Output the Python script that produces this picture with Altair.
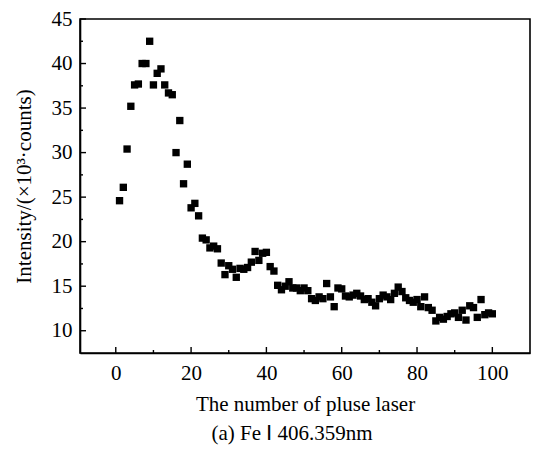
import altair as alt
import pandas as pd

pulse = list(range(1, 101))
intensity = [
    24.6, 26.1, 30.4, 35.2, 37.6, 37.7, 40.0, 40.0, 42.5, 37.6,
    38.9, 39.4, 37.6, 36.7, 36.5, 30.0, 33.6, 26.5, 28.7, 23.8,
    24.3, 22.9, 20.4, 20.2, 19.3, 19.5, 19.2, 17.6, 16.3, 17.3,
    16.9, 16.0, 17.0, 16.9, 17.1, 17.7, 18.9, 17.9, 18.7, 18.8,
    17.2, 16.7, 15.1, 14.6, 15.0, 15.5, 14.8, 14.8, 14.5, 14.8,
    14.5, 13.6, 13.4, 13.8, 13.6, 15.3, 13.8, 12.7, 14.8, 14.7,
    13.9, 13.8, 14.0, 14.2, 13.9, 13.5, 13.6, 13.2, 12.8, 13.6,
    14.0, 13.8, 13.5, 14.2, 14.9, 14.4, 13.7, 13.4, 13.2, 13.5,
    12.7, 13.8, 12.6, 12.3, 11.1, 11.5, 11.3, 11.6, 11.9, 12.0,
    11.5, 12.3, 11.2, 12.8, 12.6, 11.5, 13.5, 11.8, 12.0, 11.9,
]
x_major = [0, 20, 40, 60, 80, 100]
x_minor = [10, 30, 50, 70, 90]
y_major = [10, 15, 20, 25, 30, 35, 40, 45]
y_minor = [12.5, 17.5, 22.5, 27.5, 32.5, 37.5, 42.5]

W, H = 450, 334
FONT = "Liberation Serif"
FS = 21

xscale = alt.Scale(domain=[-9.5, 110], nice=False, zero=False)
yscale = alt.Scale(domain=[7.5, 45], nice=False, zero=False)

df = pd.DataFrame({"pulse": pulse, "intensity": intensity})

points = alt.Chart(df).mark_square(size=54, color="black", opacity=1, filled=True).encode(
    x=alt.X("pulse:Q", scale=xscale,
            axis=alt.Axis(values=x_major, title="The number of pluse laser", ticks=False,
                          grid=False, labelFont=FONT, labelFontSize=FS, labelColor="black",
                          titleFont=FONT, titleFontSize=FS, titleFontWeight="normal",
                          titleColor="black", labelPadding=9, titlePadding=10,
                          domainColor="black", domainWidth=1.6)),
    y=alt.Y("intensity:Q", scale=yscale,
            axis=alt.Axis(values=y_major, title="Intensity/(×10³·counts)", ticks=False,
                          grid=False, labelFont=FONT, labelFontSize=FS, labelColor="black",
                          titleFont=FONT, titleFontSize=FS, titleFontWeight="normal",
                          titleColor="black", labelPadding=8, titlePadding=17,
                          domainColor="black", domainWidth=1.6)),
)

def xticks(vals, length):
    d = pd.DataFrame({"v": vals})
    return alt.Chart(d).mark_rule(color="black", strokeWidth=1.4).encode(
        x=alt.X("v:Q", scale=xscale),
        y=alt.value(H), y2=alt.value(H - length))

def yticks(vals, length):
    d = pd.DataFrame({"v": vals})
    return alt.Chart(d).mark_rule(color="black", strokeWidth=1.4).encode(
        y=alt.Y("v:Q", scale=yscale),
        x=alt.value(0), x2=alt.value(length))

chart = alt.layer(
    points, xticks(x_major, 6), xticks(x_minor, 3), yticks(y_major, 6), yticks(y_minor, 3)
).properties(
    width=W, height=H,
    background="white",
    autosize=alt.AutoSizeParams(type="none"),
    padding={"left": 80, "top": 19, "right": 13, "bottom": 100},
    title=alt.TitleParams("(a) Fe Ⅰ 406.359nm", orient="bottom", font=FONT, fontSize=FS,
                          fontWeight="normal", color="black", offset=9, dx=-13),
).configure_view(stroke="black", strokeWidth=1.6)

chart.save("out.html", embed_options={"renderer": "svg", "actions": False})
